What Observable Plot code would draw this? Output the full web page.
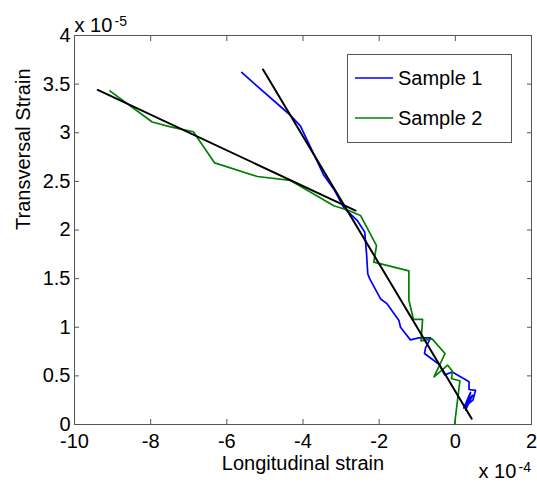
<!DOCTYPE html>
<html><head><meta charset="utf-8">
<script src="https://cdn.jsdelivr.net/npm/d3@7"></script>
<script src="https://cdn.jsdelivr.net/npm/@observablehq/plot@0.6"></script>
<style>
html,body{margin:0;padding:0;background:#fff}
#chart{position:absolute;left:0;top:0}
</style>
</head><body><div id="chart"></div>
<script>
// Series names and colours
const seriesNames = ["Sample 1", "Sample 2"];
const seriesColors = ["#0000ff", "#008000"];
const fitColor = "#000000";

// Sample 1 (x in 1e-4, y in 1e-5)
const s1x = [-5.61, -4.33, -4.07, -3.80, -3.45, -3.19, -2.93, -2.58, -2.38, -2.33, -2.30, -2.25, -1.96, -1.79, -1.48, -1.44, -1.18, -0.96, -0.65, -0.78, -0.81, -0.43, -0.28, -0.08, 0.18, 0.36, 0.36, 0.53, 0.46, 0.22, 0.40, 0.27, 0.45, 0.25];
const s1y = [3.62, 3.18, 3.07, 2.85, 2.56, 2.42, 2.23, 2.10, 1.98, 1.75, 1.55, 1.50, 1.29, 1.24, 1.07, 1.00, 0.87, 0.89, 0.89, 0.79, 0.73, 0.62, 0.51, 0.54, 0.48, 0.44, 0.36, 0.35, 0.25, 0.17, 0.33, 0.15, 0.30, 0.19];

// Sample 2
const s2x = [-9.07, -7.96, -7.48, -6.88, -6.32, -5.20, -4.33, -3.19, -2.80, -2.49, -2.07, -2.14, -1.22, -1.22, -1.10, -0.86, -0.90, -0.61, -0.27, -0.56, -0.20, -0.08, -0.10, 0.12, -0.02];
const s2y = [3.43, 3.11, 3.06, 3.01, 2.69, 2.55, 2.51, 2.25, 2.20, 2.15, 1.84, 1.67, 1.58, 1.28, 1.08, 1.08, 0.86, 0.88, 0.73, 0.49, 0.61, 0.55, 0.47, 0.45, 0.00];

// Linear fits (end points)
const fit1x = [-5.05, 0.43];
const fit1y = [3.65, 0.06];
const fit2x = [-9.39, -2.62];
const fit2y = [3.44, 2.20];

// Ticks and labels
const xTicks = [-10, -8, -6, -4, -2, 0, 2];
const yTicks = [0, 0.5, 1, 1.5, 2, 2.5, 3, 3.5, 4];
const xLabel = "Longitudinal strain";
const yLabel = "Transversal Strain";
const xExponent = "-4";
const yExponent = "-5";

const toRows = (xs, ys) => xs.map((x, i) => ({x, y: ys[i]}));
const s1 = toRows(s1x, s1y);
const s2 = toRows(s2x, s2y);
const f1 = toRows(fit1x, fit1y);
const f2 = toRows(fit2x, fit2y);

const axisColor = "#555555";
const fnt = "'Liberation Sans', Arial, Helvetica, sans-serif";
const fmt = d => String(d);

const chart = Plot.plot({
  width: 537,
  height: 483,
  marginLeft: 74,
  marginRight: 6,
  marginTop: 35,
  marginBottom: 59,
  style: {fontFamily: fnt, fontSize: "20px", color: "#000", background: "#fff", overflow: "visible"},
  x: {domain: [-10, 2]},
  y: {domain: [0, 4]},
  marks: [
    Plot.frame({stroke: axisColor, strokeWidth: 1}),
    // inward ticks on all four sides
    Plot.axisX(xTicks, {anchor: "bottom", tickSize: -5, tickFormat: () => "", stroke: axisColor, label: null}),
    Plot.axisX(xTicks, {anchor: "top", tickSize: -5, tickFormat: () => "", stroke: axisColor, label: null}),
    Plot.axisY(yTicks, {anchor: "left", tickSize: -5, tickFormat: () => "", stroke: axisColor, label: null}),
    Plot.axisY(yTicks, {anchor: "right", tickSize: -5, tickFormat: () => "", stroke: axisColor, label: null}),
    // tick labels
    Plot.axisX(xTicks, {anchor: "bottom", tickSize: 0, tickPadding: 9, tickFormat: fmt, fontSize: 20, fill: "#000", label: null}),
    Plot.axisY(yTicks, {anchor: "left", tickSize: 0, tickPadding: 4, tickFormat: fmt, fontSize: 20, fill: "#000", label: null}),
    // data
    Plot.line(s1, {x: "x", y: "y", stroke: seriesColors[0], strokeWidth: 1.7}),
    Plot.line(s2, {x: "x", y: "y", stroke: seriesColors[1], strokeWidth: 1.7}),
    Plot.line(f1, {x: "x", y: "y", stroke: fitColor, strokeWidth: 2}),
    Plot.line(f2, {x: "x", y: "y", stroke: fitColor, strokeWidth: 2}),
    // axis titles
    Plot.text([xLabel], {text: d => d, frameAnchor: "bottom", lineAnchor: "bottom", dy: 45, fontSize: 20, fill: "#000"}),
    Plot.text([yLabel], {text: d => d, frameAnchor: "left", lineAnchor: "bottom", rotate: -90, dx: -45, fontSize: 20, fill: "#000"}),
    // exponent labels
    Plot.text(["x 10"], {text: d => d, frameAnchor: "top-left", textAnchor: "start", lineAnchor: "bottom", dy: -4, dx: 0, fontSize: 20, fill: "#000"}),
    Plot.text([yExponent], {text: d => d, frameAnchor: "top-left", textAnchor: "start", lineAnchor: "bottom", dy: -10, dx: 40, fontSize: 14, fill: "#000"}),
    Plot.text(["x 10"], {text: d => d, frameAnchor: "bottom-right", textAnchor: "start", lineAnchor: "bottom", dy: 53, dx: -53, fontSize: 20, fill: "#000"}),
    Plot.text([xExponent], {text: d => d, frameAnchor: "bottom-right", textAnchor: "start", lineAnchor: "bottom", dy: 47, dx: -13, fontSize: 14, fill: "#000"})
  ]
});

// Legend box inside the plot (top right)
const svg = d3.select(chart);
const lg = svg.append("g").attr("font-family", fnt).attr("font-size", 20).attr("text-anchor", "start");
lg.append("rect").attr("x", 347.5).attr("y", 54.5).attr("width", 164).attr("height", 88)
  .attr("fill", "#fff").attr("stroke", axisColor).attr("stroke-width", 1);
seriesNames.forEach((name, i) => {
  const cy = 78 + i * 40;
  lg.append("line").attr("x1", 355).attr("x2", 393).attr("y1", cy).attr("y2", cy)
    .attr("stroke", seriesColors[i]).attr("stroke-width", 1.7);
  lg.append("text").attr("x", 398).attr("y", cy + 7).attr("text-anchor", "start").attr("fill", "#000").text(name);
});

document.getElementById("chart").appendChild(chart);
</script>
</body></html>
